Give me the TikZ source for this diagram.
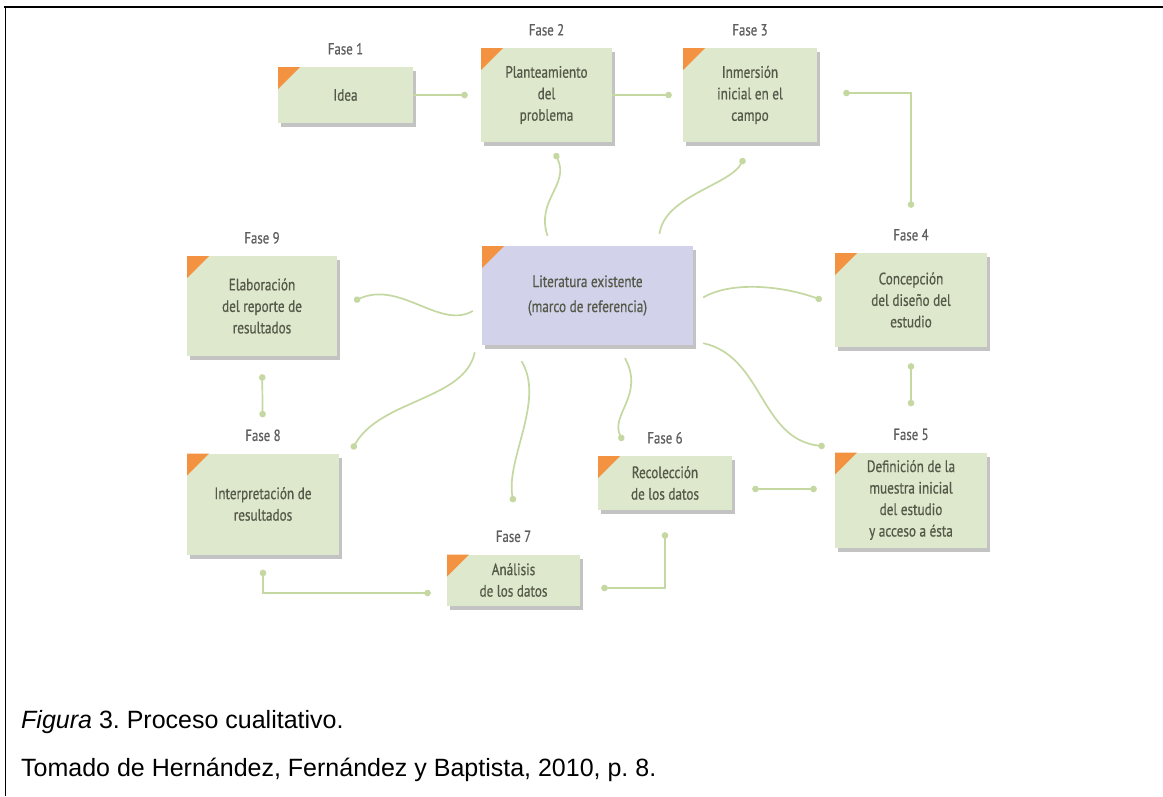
\documentclass[tikz,border=0pt]{standalone}
\usepackage{fontspec}
\setmainfont{Liberation Sans}
\newfontfamily\diagfont[FakeStretch=0.8, FakeBold=0.6]{PT Sans}
\usetikzlibrary{arrows.meta,shadows}

\definecolor{boxgreen}{HTML}{DDE8CC}
\definecolor{litblue}{HTML}{D2D2EA}
\definecolor{cornerorange}{HTML}{F39240}
\definecolor{linkgreen}{HTML}{C6D8A2}
\definecolor{boxtext}{HTML}{555949}
\definecolor{fasegray}{HTML}{5E5E5E}
\definecolor{shadowgray}{HTML}{B4B4B4}

\tikzset{
  phase/.style={rectangle, fill=boxgreen, text=boxtext, align=center, inner sep=0pt,
    font=\diagfont\fontsize{16.5}{21.5}\selectfont,
    drop shadow={shadow xshift=3pt, shadow yshift=-4pt, fill=shadowgray, opacity=0.8},
    path picture={\fill[cornerorange] (path picture bounding box.north west)
      -- ++(22pt,0pt) -- ++(-22pt,-22pt) -- cycle;}},
  litbox/.style={phase, fill=litblue, font=\diagfont\fontsize{16.5}{25}\selectfont},
  fase/.style={font=\diagfont\fontsize{16}{18}\selectfont, text=fasegray, inner sep=0pt, label distance=12pt},
  link/.style={draw=linkgreen, line width=1.7pt},
  dotend/.style={link, -{Circle[length=6.5pt]}},
  dotboth/.style={link, {Circle[length=6.5pt]}-{Circle[length=6.5pt]}}
}

\begin{document}
\frenchspacing
\begin{tikzpicture}[x=1pt,y=-1pt]
  \useasboundingbox (0,0) rectangle (1163,796);
  \fill[white] (0,0) rectangle (1163,796);
  % frame
  \draw[line width=2.3pt] (4,7) -- (1163,7);
  \draw[line width=1.6pt] (5.5,6) -- (5.5,796);

  % phases
  \node[phase, minimum width=135pt, minimum height=56pt, label={[fase]above:Fase 1}] (idea) at (345.5,95) {Idea};
  \node[phase, minimum width=131pt, minimum height=94pt, label={[fase]above:Fase 2}] (plant) at (546.5,95) {Planteamiento\\del\\problema};
  \node[phase, minimum width=134pt, minimum height=94pt, label={[fase]above:Fase 3}] (inmer) at (750,95) {Inmersión\\inicial en el\\campo};
  \node[phase, minimum width=152pt, minimum height=94pt, label={[fase]above:Fase 4}] (concep) at (911,300) {Concepción\\del diseño del\\estudio};
  \node[phase, minimum width=152pt, minimum height=95pt, label={[fase]above:Fase 5}] (defin) at (911,500) {Definición de la\\muestra inicial\\del estudio\\y acceso a ésta};
  \node[phase, minimum width=134pt, minimum height=54pt, label={[fase]above:Fase 6}] (recol) at (665,483) {Recolección\\de los datos};
  \node[phase, minimum width=133pt, minimum height=51pt, label={[fase]above:Fase 7}] (anal) at (513.5,580) {Análisis\\de los datos};
  \node[phase, minimum width=152pt, minimum height=101pt, label={[fase]above:Fase 8}] (interp) at (263,504) {Interpretación de\\resultados};
  \node[phase, minimum width=150pt, minimum height=100pt, label={[fase]above:Fase 9}] (elab) at (262,306) {Elaboración\\del reporte de\\resultados};
  \node[litbox, minimum width=211pt, minimum height=99pt] (lit) at (587.5,295.5) {Literatura existente\\(marco de referencia)};

  % straight links
  \draw[dotend, shorten >=13pt] (idea.east) -- (plant.west);
  \draw[dotend, shorten >=11pt] (plant.east) -- (inmer.west);
  \draw[dotboth, shorten <=26pt, shorten >=45pt] ([yshift=2pt]inmer.east) -| (concep.north);
  \draw[dotboth, shorten <=16pt, shorten >=46pt] (concep.south) -- (defin.north);
  \draw[dotboth, shorten <=20pt, shorten >=18pt] ([yshift=-6pt]recol.east) -- ([yshift=-6pt]recol.east -| defin.west);
  \draw[dotboth, shorten <=22pt, shorten >=21pt] (recol.south) |- ([yshift=-8pt]anal.east);
  \draw[dotboth, shorten <=16pt, shorten >=15pt] ([yshift=-13pt]anal.west) -| (interp.south);
  \draw[dotboth, shorten <=18pt, shorten >=36pt] (elab.south) -- (interp.north);

  % curved links from the literature
  \draw[dotend] ([xshift=-40pt,yshift=10pt]lit.north) .. controls +(-12,-36) and +(15,32) .. ([xshift=8.5pt,yshift=-11pt]plant.south);
  \draw[dotend] ([xshift=72pt,yshift=12pt]lit.north) .. controls +(5,-38) and +(-14,27) .. ([xshift=-6pt,yshift=-16pt]inmer.south);
  \draw[dotend] ([xshift=10pt,yshift=-2pt]lit.east) .. controls +(27,-16) and +(-42,-15) .. ([xshift=-13pt]concep.west);
  \draw[dotend] ([xshift=10pt,yshift=2pt]lit.south east) .. controls +(60,13) and +(-65,-7) .. ([xshift=-10pt,yshift=6pt]defin.north west);
  \draw[dotend] ([xshift=37.5pt,yshift=-13pt]lit.south) .. controls +(20,37) and +(-13,-26) .. ([xshift=25pt,yshift=15pt]recol.north west);
  \draw[dotend] ([xshift=-66pt,yshift=-16pt]lit.south) .. controls +(24,39) and +(-8,-43) .. ([yshift=52pt]anal.north);
  \draw[dotend] ([xshift=-7pt,yshift=-7pt]lit.south west) .. controls +(-10,48) and +(28,-50) .. ([xshift=13pt,yshift=4pt]interp.north east);
  \draw[dotend] ([xshift=-9pt,yshift=-15.5pt]lit.west) .. controls +(-33,19) and +(46,-21) .. ([xshift=17pt,yshift=5pt]elab.east);

  % caption
  \node[anchor=west, inner sep=0pt, font=\fontsize{25}{29}\selectfont] (figcap) at (21,722) {\textit{Figura} 3. Proceso cualitativo.};
  \node[anchor=west, inner sep=0pt, font=\fontsize{25}{29}\selectfont] (source) at (21,770) {Tomado de Hernández, Fernández y Baptista, 2010, p. 8.};
\end{tikzpicture}
\end{document}
